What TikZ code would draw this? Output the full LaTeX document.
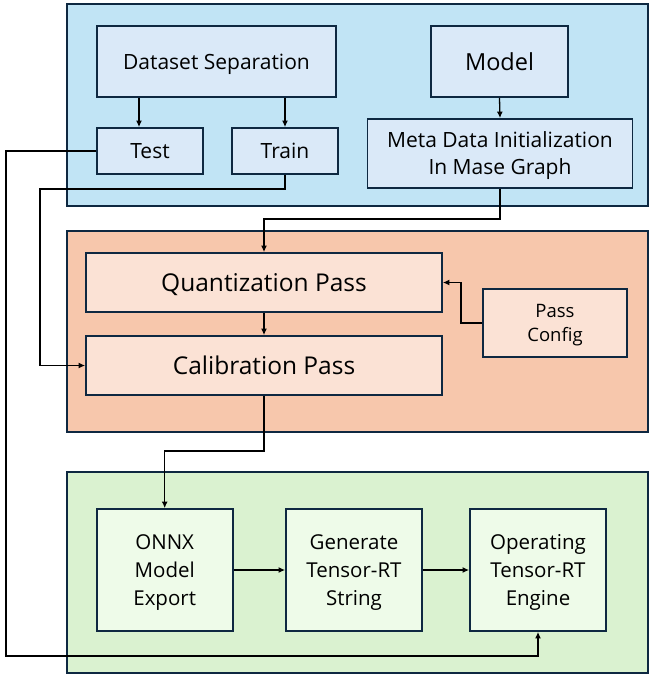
\documentclass[tikz,border=0pt]{standalone}
\usepackage{fontspec}
\setmainfont{Open Sans}
\usetikzlibrary{arrows.meta}
\definecolor{edgecol}{RGB}{14,40,65}
\definecolor{bluepanel}{RGB}{193,228,245}
\definecolor{bluefill}{RGB}{218,233,248}
\definecolor{orgpanel}{RGB}{247,199,172}
\definecolor{orgfill}{RGB}{251,226,213}
\definecolor{grnpanel}{RGB}{218,242,208}
\definecolor{grnfill}{RGB}{238,251,233}
\newcommand{\boxfont}[2]{\fontsize{#1}{#2}\selectfont}
\tikzset{
  panel/.style={draw=edgecol,line width=1.8pt},
  blk/.style={draw=edgecol,line width=1.8pt,inner sep=0pt,align=center,text=black,text depth=0pt},
  bbox/.style={blk,fill=bluefill},
  obox/.style={blk,fill=orgfill},
  gbox/.style={blk,fill=grnfill},
  arr/.style={black,line width=1.3pt,-{Latex[length=6.5pt,width=6pt]}},
}
\begin{document}
\begin{tikzpicture}[x=1pt,y=-1pt]
  \useasboundingbox (0,0) rectangle (651,678);
  % panels
  \draw[panel,fill=bluepanel] (67,4) rectangle (648,206);
  \draw[panel,fill=orgpanel] (67,231) rectangle (648,432);
  \draw[panel,fill=grnpanel] (67,472) rectangle (648,673);
  % data and model
  \node[bbox,minimum width=239pt,minimum height=71pt,font=\boxfont{21}{26}] (dsep) at (216.5,61.5) {Dataset Separation};
  \node[bbox,minimum width=137pt,minimum height=71pt,font=\boxfont{23.5}{28}] (model) at (499.5,61.5) {Model};
  \node[bbox,minimum width=106pt,minimum height=46pt,font=\boxfont{21}{26}] (test) at (150,151) {Test};
  \node[bbox,minimum width=106pt,minimum height=46pt,font=\boxfont{21}{26}] (train) at (285,151) {Train};
  \node[bbox,minimum width=265pt,minimum height=69pt,font=\boxfont{21}{27}] (meta) at (500,153.5) {Meta Data Initialization\\In Mase Graph};
  % passes
  \node[obox,minimum width=356pt,minimum height=59pt,font=\boxfont{24.5}{29}] (quant) at (264,282.5) {Quantization Pass};
  \node[obox,minimum width=356pt,minimum height=59pt,font=\boxfont{24.5}{29}] (calib) at (264,365.5) {Calibration Pass};
  \node[obox,minimum width=144pt,minimum height=68pt,font=\boxfont{18.5}{23.5}] (pcfg) at (555,323) {Pass\\Config};
  % deployment
  \node[gbox,minimum width=136pt,minimum height=122pt,font=\boxfont{20.5}{28}] (onnx) at (164.7,570) {ONNX\\Model\\Export};
  \node[gbox,minimum width=136pt,minimum height=122pt,font=\boxfont{20.5}{28}] (gen) at (354,570) {Generate\\Tensor-RT\\String};
  \node[gbox,minimum width=136pt,minimum height=122pt,font=\boxfont{20.5}{28}] (oper) at (538,570) {Operating\\Tensor-RT\\Engine};
  % connectors
  \coordinate (testin) at ([xshift=-11pt]test.north);
  \coordinate (trainbend) at (40,189);
  \coordinate (testbend) at (6,656);
  \draw[arr] (testin |- dsep.south) -- (testin);
  \draw[arr] (train.north |- dsep.south) -- (train.north);
  \draw[arr] (model.south) -- (meta.north);
  \draw[arr] (meta.south) -- ++(0,30) -| (quant.north);
  \draw[arr] (quant.south) -- (calib.north);
  \draw[arr] (pcfg.west) -- ++(-21,0) |- (quant.east);
  \draw[arr] (train.south) |- (trainbend) |- (calib.west);
  \draw[arr] (calib.south) -- ++(0,55) -| (onnx.north);
  \draw[arr] (onnx.east) -- (gen.west);
  \draw[arr] (gen.east) -- (oper.west);
  \draw[arr] (test.west) -| (testbend) -| (oper.south);
\end{tikzpicture}
\end{document}
